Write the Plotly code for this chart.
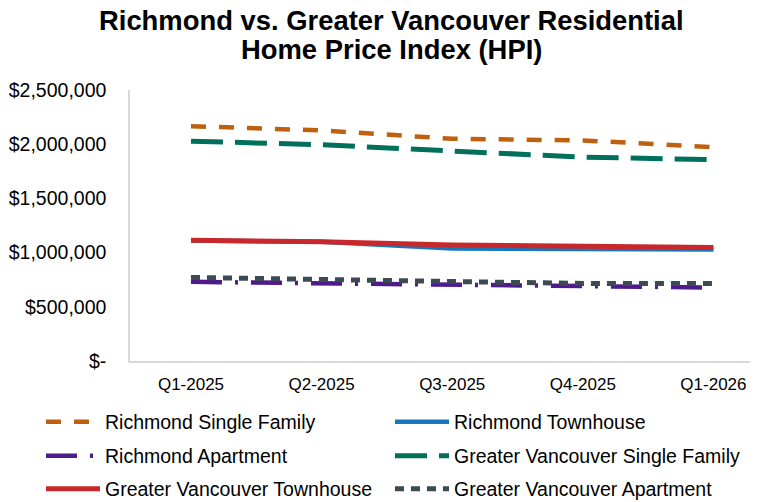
import plotly.graph_objects as go

quarters = ["Q1-2025", "Q2-2025", "Q3-2025", "Q4-2025", "Q1-2026"]
richmond_sf = [2166000, 2127000, 2050000, 2035000, 1973000]
richmond_th = [1112000, 1099000, 1038000, 1034000, 1028000]
richmond_apt = [730000, 715000, 706000, 684000, 678000]
gv_sf = [2028000, 1995000, 1937000, 1881000, 1857000]
gv_th = [1114000, 1100000, 1071000, 1062000, 1047000]
gv_apt = [771000, 752000, 730000, 715000, 715000]
y_tickvals = [0, 500000, 1000000, 1500000, 2000000, 2500000]
y_ticktext = ["$-", "$500,000", "$1,000,000", "$1,500,000", "$2,000,000", "$2,500,000"]
title_lines = ["Richmond vs. Greater Vancouver Residential", "Home Price Index (HPI)"]

series = [
    ("Richmond Single Family", richmond_sf, "#C0600C", "15px,13px", 4.5),
    ("Richmond Townhouse", richmond_th, "#1A76BC", "solid", 4.5),
    ("Richmond Apartment", richmond_apt, "#4E1A8E", "31px,13px,3px,13px", 4.5),
    ("Greater Vancouver Single Family", gv_sf, "#00705C", "32px,12px", 5),
    ("Greater Vancouver Townhouse", gv_th, "#C8282C", "solid", 5),
    ("Greater Vancouver Apartment", gv_apt, "#3C4A53", "9px,7px", 5),
]

# legend slot for each series: (column text-left x, row anchor y) in figure pixels
legend_cols = [106, 455]
legend_rows = [414, 448, 481]

x_idx = list(range(len(quarters)))
fig = go.Figure()
legend_layouts = {}
for i, (name, vals, color, dash, w) in enumerate(series):
    key = "legend" if i == 0 else "legend%d" % (i + 1)
    fig.add_trace(go.Scatter(
        x=x_idx, y=vals, name=name, mode="lines", legend=key,
        line=dict(color=color, dash=dash, width=w),
    ))
    tx = legend_cols[i % 2]
    ty = legend_rows[i // 2]
    legend_layouts[key] = dict(
        orientation="h", xref="container", yref="container",
        x=(tx - 73) / 758, xanchor="left",
        y=1 - ty / 502, yanchor="middle",
        itemwidth=54, font=dict(size=19.5),
        bgcolor="rgba(0,0,0,0)",
    )

fig.update_layout(
    width=758, height=502,
    margin=dict(l=122, r=16, t=81.5, b=149, autoexpand=False),
    paper_bgcolor="white", plot_bgcolor="white",
    font=dict(family="Liberation Sans, Arial, sans-serif", size=19.5, color="#000000"),
    showlegend=True,
    xaxis=dict(
        tickmode="array", tickvals=x_idx, ticktext=quarters,
        range=[-0.467, 4.28], showgrid=False, zeroline=False,
        showline=True, linecolor="#D9D9D9", linewidth=1.5,
        ticks="", ticklabelstandoff=7, tickangle=0,
        ticklabeloverflow="allow",
        tickfont=dict(size=17),
    ),
    yaxis=dict(
        tickmode="array", tickvals=y_tickvals, ticktext=y_ticktext,
        range=[0, 2500000], showgrid=False, zeroline=False,
        showline=True, linecolor="#D9D9D9", linewidth=1.5,
        ticks="", ticklabelstandoff=18,
    ),
    **legend_layouts,
)

plot_h, plot_left, plot_w, plot_bottom = 271.5, 130, 620, 361
for line, yc in zip(title_lines, [20, 49]):
    fig.add_annotation(
        text="<b>" + line + "</b>", showarrow=False,
        xref="paper", yref="paper",
        x=(391 - plot_left) / plot_w, y=(plot_bottom - yc) / plot_h,
        xanchor="center", yanchor="middle",
        font=dict(size=27.4, color="#000000"),
    )

fig.write_html("out.html")
